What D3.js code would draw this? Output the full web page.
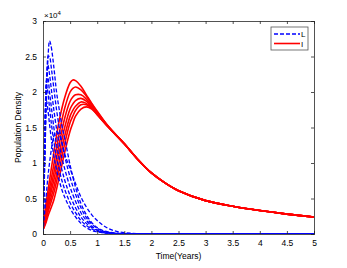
<!DOCTYPE html>
<html>
<head>
<meta charset="utf-8">
<script src="https://cdn.jsdelivr.net/npm/d3@7"></script>
<style>
  body { margin: 0; background: #fff; }
  text { font-family: "Liberation Sans", Arial, sans-serif; }
</style>
</head>
<body>
<script>
const width = 347;
const height = 268;
const margin = { top: 21, right: 33, bottom: 34, left: 43 };

// time samples (years)
const tL = [0, 0.03, 0.06, 0.09, 0.12, 0.16, 0.2, 0.25, 0.3, 0.35, 0.4, 0.5, 0.6, 0.7, 0.8, 0.9, 1.0, 1.2, 1.5, 2, 3, 4, 5];
const tI = [0, 0.05, 0.1, 0.2, 0.3, 0.4, 0.5, 0.55, 0.6, 0.7, 0.8, 0.9, 1.0, 1.2, 1.5, 1.75, 2, 2.25, 2.5, 3, 3.5, 4, 4.5, 5];

// L (x10^4), blue dashed
const L1 = [0.02, 0.9, 1.8, 2.45, 2.72, 2.6, 2.35, 2.0, 1.75, 1.52, 1.35, 0.97, 0.66, 0.43, 0.27, 0.16, 0.09, 0.03, 0.005, 0, 0, 0, 0];
const L2 = [0.02, 1.0, 1.95, 2.5, 2.5, 2.3, 2.05, 1.75, 1.5, 1.28, 1.1, 0.8, 0.56, 0.37, 0.23, 0.14, 0.08, 0.025, 0.005, 0, 0, 0, 0];
const L3 = [0.02, 1.1, 2.1, 2.38, 2.25, 2.0, 1.75, 1.48, 1.26, 1.07, 0.92, 0.66, 0.46, 0.3, 0.19, 0.11, 0.06, 0.02, 0, 0, 0, 0, 0];
const L4 = [0.02, 1.2, 2.15, 2.2, 2.0, 1.75, 1.5, 1.27, 1.07, 0.9, 0.76, 0.54, 0.37, 0.24, 0.15, 0.09, 0.05, 0.015, 0, 0, 0, 0, 0];
const L5 = [0.02, 1.3, 2.08, 2.0, 1.78, 1.52, 1.3, 1.08, 0.9, 0.75, 0.63, 0.44, 0.3, 0.19, 0.12, 0.07, 0.04, 0.01, 0, 0, 0, 0, 0];
const L6 = [0.02, 1.35, 1.88, 1.75, 1.55, 1.3, 1.1, 0.9, 0.75, 0.62, 0.52, 0.36, 0.24, 0.15, 0.09, 0.05, 0.03, 0.01, 0, 0, 0, 0, 0];
const L7 = [0.02, 0.3, 0.55, 0.8, 1.0, 1.22, 1.38, 1.44, 1.4, 1.28, 1.13, 0.92, 0.71, 0.52, 0.38, 0.27, 0.19, 0.08, 0.02, 0, 0, 0, 0];

// I (x10^4), red solid
const I1 = [0.06, 0.4, 0.65, 1.15, 1.6, 1.92, 2.13, 2.17, 2.16, 2.08, 1.96, 1.84, 1.73, 1.52, 1.27, 1.05, 0.86, 0.72, 0.61, 0.47, 0.39, 0.33, 0.28, 0.24];
const I2 = [0.06, 0.33, 0.55, 0.98, 1.42, 1.77, 2.0, 2.05, 2.07, 2.03, 1.94, 1.83, 1.72, 1.52, 1.27, 1.05, 0.86, 0.72, 0.61, 0.47, 0.39, 0.33, 0.28, 0.24];
const I3 = [0.06, 0.28, 0.48, 0.86, 1.27, 1.63, 1.87, 1.93, 1.96, 1.96, 1.9, 1.81, 1.71, 1.52, 1.27, 1.05, 0.86, 0.72, 0.61, 0.47, 0.39, 0.33, 0.28, 0.24];
const I4 = [0.06, 0.24, 0.43, 0.76, 1.14, 1.5, 1.76, 1.83, 1.88, 1.91, 1.87, 1.79, 1.7, 1.51, 1.27, 1.05, 0.86, 0.72, 0.61, 0.47, 0.39, 0.33, 0.28, 0.24];
const I5 = [0.06, 0.21, 0.38, 0.66, 1.02, 1.38, 1.66, 1.74, 1.8, 1.86, 1.84, 1.78, 1.69, 1.51, 1.27, 1.05, 0.86, 0.72, 0.61, 0.47, 0.39, 0.33, 0.28, 0.24];
const I6 = [0.06, 0.18, 0.33, 0.58, 0.91, 1.27, 1.57, 1.66, 1.74, 1.82, 1.82, 1.77, 1.68, 1.51, 1.27, 1.05, 0.86, 0.72, 0.61, 0.47, 0.39, 0.33, 0.28, 0.24];
const I7 = [0.06, 0.15, 0.27, 0.48, 0.8, 1.15, 1.45, 1.56, 1.66, 1.76, 1.79, 1.76, 1.68, 1.51, 1.27, 1.05, 0.86, 0.72, 0.61, 0.47, 0.39, 0.33, 0.28, 0.24];

const seriesL = [L1, L2, L3, L4, L5, L6, L7];
const seriesI = [I1, I2, I3, I4, I5, I6, I7];

const xTicks = [0, 0.5, 1, 1.5, 2, 2.5, 3, 3.5, 4, 4.5, 5];
const yTicks = [0, 0.5, 1, 1.5, 2, 2.5, 3];
const legendLabels = ["L", "I"];

const svg = d3.select("body").append("svg")
  .attr("width", width)
  .attr("height", height);

const w = width - margin.left - margin.right;
const h = height - margin.top - margin.bottom;

const x = d3.scaleLinear().domain([0, 5]).range([0, w]);
const y = d3.scaleLinear().domain([0, 3]).range([h, 0]);

const g = svg.append("g").attr("transform", `translate(${margin.left},${margin.top})`);

svg.append("defs").append("clipPath").attr("id", "clip")
  .append("rect").attr("y", -2).attr("width", w).attr("height", h + 2);

const lineL = d3.line().x((d, i) => x(tL[i])).y((d) => y(Math.max(0, d)))
  .curve(d3.curveMonotoneX);
const lineI = d3.line().x((d, i) => x(tI[i])).y((d) => y(d))
  .curve(d3.curveCatmullRom.alpha(0.5));

const plot = g.append("g").attr("clip-path", "url(#clip)");

plot.selectAll(".lineI")
  .data(seriesI)
  .join("path")
  .attr("class", "lineI")
  .attr("fill", "none")
  .attr("stroke", "#ff0000")
  .attr("stroke-width", 1.6)
  .attr("d", lineI);

plot.selectAll(".lineL")
  .data(seriesL)
  .join("path")
  .attr("class", "lineL")
  .attr("fill", "none")
  .attr("stroke", "#0000ff")
  .attr("stroke-width", 1.3)
  .attr("stroke-dasharray", "4,2")
  .attr("d", lineL);

// axes, MATLAB style box with inward ticks
const axisColor = "#262626";
const fmt = d3.format("~g");

const axB = g.append("g").attr("transform", `translate(0,${h})`)
  .call(d3.axisBottom(x).tickValues(xTicks).tickSize(-3).tickPadding(6).tickFormat(fmt));
const axT = g.append("g")
  .call(d3.axisTop(x).tickValues(xTicks).tickSize(-3).tickFormat(""));
const axL = g.append("g")
  .call(d3.axisLeft(y).tickValues(yTicks).tickSize(-3).tickPadding(6).tickFormat(fmt));
const axR = g.append("g").attr("transform", `translate(${w},0)`)
  .call(d3.axisRight(y).tickValues(yTicks).tickSize(-3).tickFormat(""));

[axB, axT, axL, axR].forEach((a) => {
  a.select(".domain").attr("stroke", axisColor).attr("stroke-width", 0.8);
  a.selectAll(".tick line").attr("stroke", axisColor).attr("stroke-width", 0.8);
  a.selectAll(".tick text").attr("fill", "#000").style("font-size", "8.5px");
});

// exponent label
const expo = g.append("text").attr("x", 1).attr("y", -3)
  .style("font-size", "8px").attr("fill", "#000");
expo.append("tspan").text("\u00d710");
expo.append("tspan").attr("dy", -3).style("font-size", "6px").text("4");

// axis labels
svg.append("text")
  .attr("x", margin.left + w / 2)
  .attr("y", 259)
  .attr("text-anchor", "middle")
  .style("font-size", "8.5px")
  .text("Time(Years)");

svg.append("text")
  .attr("transform", `translate(21,${margin.top + h / 2}) rotate(-90)`)
  .attr("text-anchor", "middle")
  .style("font-size", "8.5px")
  .text("Population Density");

// legend
const lg = svg.append("g").attr("transform", "translate(271,27)");
lg.append("rect").attr("width", 37).attr("height", 23)
  .attr("fill", "#fff").attr("stroke", "#555").attr("stroke-width", 0.8);
const rows = lg.selectAll(".row").data(legendLabels).join("g")
  .attr("transform", (d, i) => `translate(0,${7 + i * 9.5})`);
rows.append("line").attr("x1", 3).attr("x2", 29)
  .attr("stroke", (d, i) => (i === 0 ? "#0000ff" : "#ff0000"))
  .attr("stroke-width", (d, i) => (i === 0 ? 1.3 : 1.6))
  .attr("stroke-dasharray", (d, i) => (i === 0 ? "4,2" : null));
rows.append("text").attr("x", 30).attr("y", 3)
  .style("font-size", "8px").text((d) => d);
</script>
</body>
</html>
